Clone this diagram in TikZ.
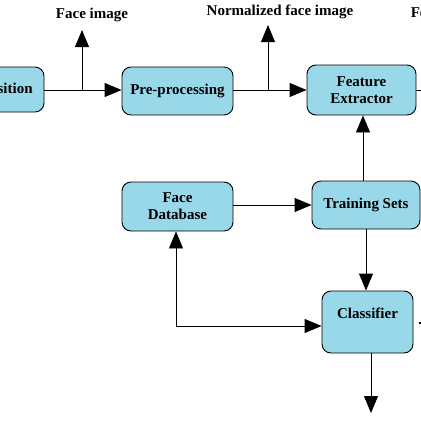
\documentclass[tikz,border=0pt]{standalone}
\usepackage{fontspec}
\setmainfont{Liberation Serif}
\usetikzlibrary{arrows.meta}
\definecolor{boxblue}{RGB}{153,216,233}
\tikzset{
  block/.style={draw,line width=0.9pt,rounded corners=9pt,fill=boxblue,align=center,
    font=\bfseries\fontsize{15}{17}\selectfont,inner sep=2pt},
  lbl/.style={font=\bfseries\fontsize{15}{17}\selectfont},
  arr/.style={-{Triangle[length=17pt,width=14pt]}}
}
\begin{document}
\begin{tikzpicture}[x=1pt,y=-1pt,line width=0.9pt]
  \useasboundingbox[fill=white] (0,0) rectangle (421,421);
  % top row
  \node[block,minimum width=96,minimum height=45] (acq) at (-4,89.5) {Acquisition};
  \node[block,minimum width=111,minimum height=48] (pre) at (177.5,91) {Pre-processing};
  \node[block,minimum width=109,minimum height=50] (fex) at (361.5,90) {Feature\\Extractor};
  % lower part
  \node[block,minimum width=111,minimum height=49] (fdb) at (177.5,206.5) {Face\\Database};
  \node[block,minimum width=108,minimum height=48] (trn) at (366,205) {Training Sets};
  \node[block,minimum width=91,minimum height=62] (cls) at (367.5,322) {Classifier\\\mbox{}};
  % labels
  \node[lbl] (lface) at (92,15) {Face image};
  \node[lbl] (lnorm) at (280,12) {Normalized face image};
  \node[lbl,anchor=west] (lfeat) at (407,13) {Feature vector};
  \coordinate (b1) at (82,90);
  \coordinate (b1t) at (82,30);
  \coordinate (b2) at (268,90);
  \coordinate (b2t) at (268,25);
  \coordinate (fout) at (440,90);
  \coordinate (cr) at (419,323);
  \coordinate (cin) at (445,323);
  \coordinate (cout) at (371,413);
  \coordinate (dbc) at (176,326);
  % connectors
  \draw[arr] (acq.east |- b1) -- (pre.west |- b1);
  \draw[arr] (b1) -- (b1t);
  \draw[arr] (pre.east |- b2) -- (fex.west |- b2);
  \draw[arr] (b2) -- (b2t);
  \draw (fex.east |- fout) -- (fout);
  \draw[arr] (fdb.east |- trn) -- (trn.west);
  \draw[arr] (trn.north -| 363,0) -- (fex.south -| 363,0);
  \draw[arr] (trn.south -| 366,0) -- (cls.north -| 366,0);
  \draw[arr] (cls.south -| cout) -- (cout);
  \draw[line width=1.5pt] (cr) -- (cin);
  \draw[arr] (dbc) -- (fdb.south -| dbc);
  \draw[arr] (dbc) -- (cls.west |- dbc);
\end{tikzpicture}
\end{document}
